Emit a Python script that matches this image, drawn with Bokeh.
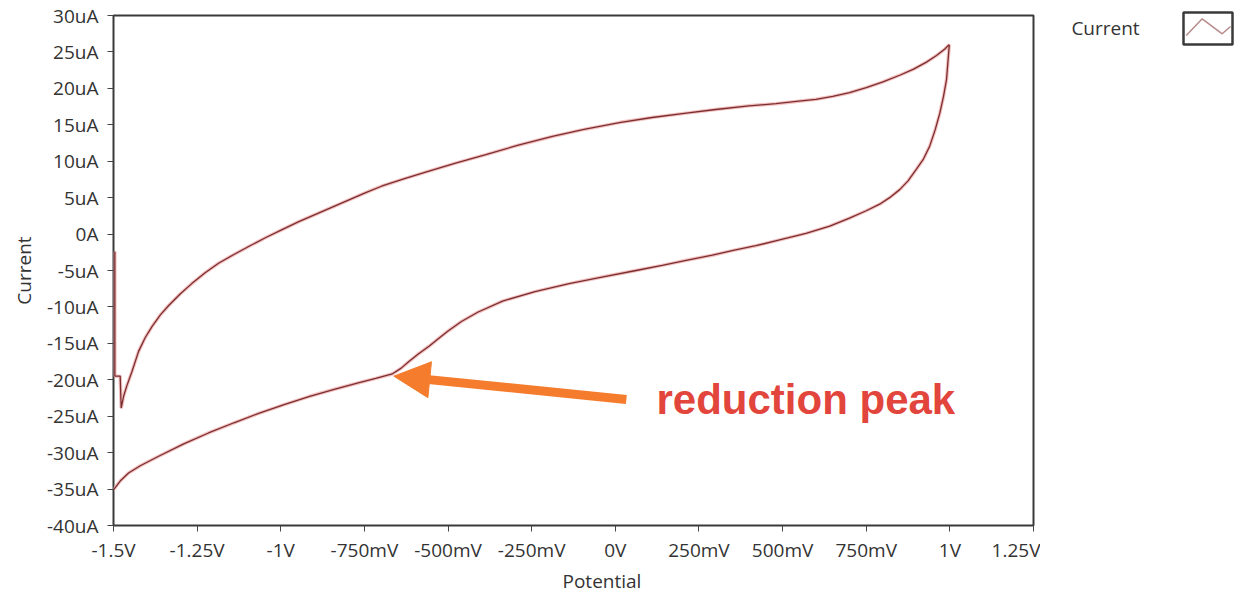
from bokeh.plotting import figure
from bokeh.models import Range1d, FixedTicker, Label, Arrow, NormalHead, Title
from bokeh.layouts import row
from bokeh.embed import file_html
from bokeh.resources import INLINE
from bokeh.core.properties import value

# ---- data (potential in V, current in uA) ----
start_v = [-1.496, -1.496, -1.480]
start_i = [-2.4, -19.5, -19.5]

forward_v = [-1.477, -1.470, -1.460, -1.445, -1.425, -1.405, -1.385, -1.360, -1.335,
             -1.300, -1.266, -1.226, -1.186, -1.140, -1.096, -1.046, -0.996, -0.946,
             -0.896, -0.846, -0.796, -0.746, -0.697, -0.630, -0.567, -0.480, -0.387,
             -0.290, -0.188, -0.090, 0.012, 0.110, 0.212, 0.300, 0.400, 0.480, 0.541,
             0.600, 0.650, 0.700, 0.750, 0.800, 0.850, 0.890, 0.930, 0.960, 0.985, 0.998]
forward_i = [-23.9, -22.3, -20.8, -18.9, -16.1, -14.2, -12.7, -11.1, -9.8,
             -8.2, -6.8, -5.3, -4.0, -2.8, -1.7, -0.5, 0.6, 1.7,
             2.7, 3.7, 4.7, 5.7, 6.6, 7.6, 8.5, 9.7, 10.9,
             12.2, 13.4, 14.4, 15.3, 16.0, 16.6, 17.1, 17.6, 17.9, 18.2,
             18.5, 18.9, 19.4, 20.1, 20.9, 21.8, 22.6, 23.6, 24.5, 25.4, 26.0]

reverse_v = [0.998, 0.994, 0.990, 0.981, 0.970, 0.956, 0.940, 0.921, 0.900, 0.875,
             0.850, 0.820, 0.790, 0.750, 0.700, 0.641, 0.570, 0.491, 0.420, 0.356,
             0.290, 0.212, 0.140, 0.062, -0.040, -0.138, -0.240, -0.337, -0.410,
             -0.460, -0.500, -0.530, -0.557, -0.590, -0.617, -0.640, -0.667, -0.716,
             -0.766, -0.840, -0.916, -0.990, -1.066, -1.140, -1.216, -1.290, -1.365,
             -1.420, -1.455, -1.480, -1.500]
reverse_i = [25.8, 23.5, 21.2, 18.9, 16.6, 14.3, 12.1, 10.3, 8.9, 7.3,
             6.1, 5.0, 4.1, 3.2, 2.2, 1.1, 0.1, -0.8, -1.6, -2.2,
             -2.9, -3.6, -4.3, -5.0, -5.9, -6.8, -7.9, -9.2, -10.7,
             -12.0, -13.3, -14.4, -15.4, -16.5, -17.5, -18.4, -19.2, -19.8,
             -20.4, -21.3, -22.3, -23.4, -24.6, -25.9, -27.3, -28.8, -30.5,
             -31.8, -32.8, -33.9, -35.1]

x_ticks = [-1.5, -1.25, -1.0, -0.75, -0.5, -0.25, 0.0, 0.25, 0.5, 0.75, 1.0, 1.25]
x_tick_labels = ["-1.5V", "-1.25V", "-1V", "-750mV", "-500mV", "-250mV", "0V",
                 "250mV", "500mV", "750mV", "1V", "1.25V"]
y_ticks = [-40, -35, -30, -25, -20, -15, -10, -5, 0, 5, 10, 15, 20, 25, 30]
y_tick_labels = ["-40uA", "-35uA", "-30uA", "-25uA", "-20uA", "-15uA", "-10uA", "-5uA",
                 "0A", "5uA", "10uA", "15uA", "20uA", "25uA", "30uA"]

arrow_from = (0.033, -22.7)
arrow_to = (-0.662, -19.5)
note_text = "reduction peak"

# ---- main figure ----
FONT = "Open Sans"
TXT = "#333333"
FS = "19px"

p = figure(width=1040, height=596, output_backend="svg", toolbar_location=None, title=None,
           x_range=Range1d(-1.5, 1.25), y_range=Range1d(-40, 30),
           min_border_left=113, min_border_right=7, min_border_top=15, min_border_bottom=71)
p.frame_align = False
p.background_fill_color = "white"
p.border_fill_color = "white"
p.outline_line_color = "#3a3a3a"
p.outline_line_width = 2
p.outline_line_alpha = 1
p.xgrid.visible = False
p.ygrid.visible = False

for ax in (p.xaxis[0], p.yaxis[0]):
    ax.axis_line_color = None
    ax.major_tick_in = 0
    ax.major_tick_out = 6
    ax.minor_tick_in = 0
    ax.minor_tick_out = 0
    ax.major_tick_line_color = "#444444"
    ax.major_tick_line_width = 1
    ax.major_label_text_font = FONT
    ax.major_label_text_font_size = FS
    ax.major_label_text_color = TXT
    ax.axis_label_text_font = FONT
    ax.axis_label_text_font_size = FS
    ax.axis_label_text_font_style = "normal"
    ax.axis_label_text_color = TXT

p.xaxis[0].ticker = FixedTicker(ticks=x_ticks)
p.xaxis[0].major_label_overrides = {t: l for t, l in zip(x_ticks, x_tick_labels)}
p.xaxis[0].major_label_standoff = 5
p.yaxis[0].ticker = FixedTicker(ticks=y_ticks)
p.yaxis[0].major_label_overrides = {t: l for t, l in zip(y_ticks, y_tick_labels)}
p.yaxis[0].major_label_standoff = 9
p.yaxis[0].axis_label = "Current"
p.yaxis[0].axis_label_standoff = 7

p.add_layout(Title(text="Potential", align="left", offset=449, standoff=0,
                   text_font=FONT, text_font_size=FS, text_font_style="normal",
                   text_color=TXT), "below")

trace_v = start_v + forward_v + reverse_v
trace_i = start_i + forward_i + reverse_i
p.line(trace_v, trace_i, line_color="#f0b0b0", line_width=3.5, line_alpha=0.8)
p.line(trace_v, trace_i, line_color="#7a2e30", line_width=1.3)

orange = "#f47c2c"
p.add_layout(Arrow(end=NormalHead(size=36, fill_color=orange, line_color=orange),
                   x_start=arrow_from[0], y_start=arrow_from[1],
                   x_end=arrow_to[0], y_end=arrow_to[1],
                   line_color=orange, line_width=9))

p.add_layout(Label(x=0.123, y=-22.7, text=note_text, text_font="Liberation Sans",
                   text_font_style="bold", text_font_size="42px", text_color="#e2453c",
                   text_baseline="alphabetic", text_align="left"))

# ---- legend panel (pixel coordinates, frame covers the whole panel) ----
leg = figure(width=202, height=596, output_backend="svg", toolbar_location=None, title=None,
             x_range=Range1d(0, 202), y_range=Range1d(596, 0),
             min_border=0, x_axis_type=None, y_axis_type=None)
leg.frame_align = False
leg.outline_line_color = None
leg.xgrid.visible = False
leg.ygrid.visible = False
leg.background_fill_color = "white"
leg.border_fill_color = "white"
leg.text(x=[65], y=[27], text=["Current"], text_font=value(FONT), text_font_size=FS,
         text_color=TXT, text_align="center", text_baseline="middle")
leg.quad(left=[143], right=[192], top=[12], bottom=[44], fill_color="white",
         line_color="#3a3a3a", line_width=2.5)
leg.line([145.7, 161.7, 181.7, 190.0], [35, 18.3, 33.3, 26], line_color="#b88a8a", line_width=1.5)

layout = row(p, leg)
open("out.html", "w").write(file_html(layout, INLINE))
